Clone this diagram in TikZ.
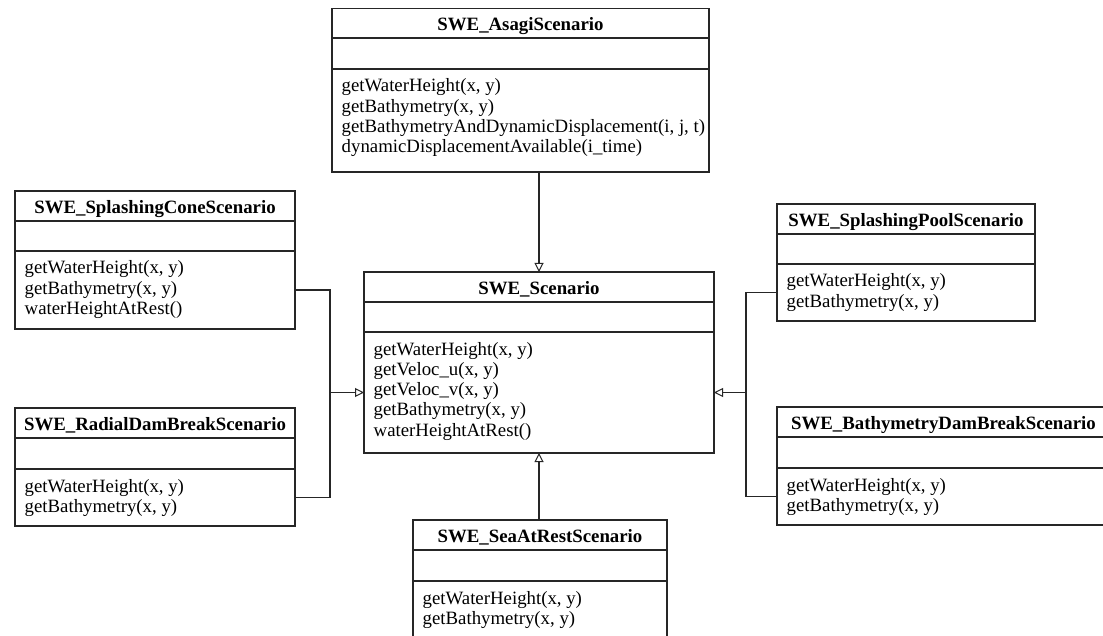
\documentclass[tikz,border=0pt]{standalone}
\usepackage{fontspec}
\setmainfont{Liberation Serif}
\usetikzlibrary{arrows.meta}
\colorlet{linecol}{black!85}
\tikzset{
  classbox/.style={rectangle, draw=linecol, line width=1.1pt, fill=white,
    inner sep=0pt, outer sep=0pt, anchor=north west},
  sepline/.style={draw=linecol, line width=1.1pt},
  classname/.style={font=\fontsize{18.8}{20}\selectfont\bfseries,
    inner sep=0pt, anchor=base},
  opline/.style={font=\fontsize{18.8}{20}\selectfont,
    inner sep=0pt, anchor=base west},
  link/.style={draw=linecol, line width=1.1pt},
  inherit/.style={draw=linecol, line width=1.1pt,
    -{Triangle[open, length=9pt, width=9pt, line width=1pt]}},
  sharedstem/.style={inherit, line width=1.8pt},
}
% #1 name, #2 left, #3 right, #4 top, #5 name/attribute rule,
% #6 attribute/operation rule, #7 bottom, #8 class name, #9 operations
\newcommand\umlclass[9]{%
  \pgfmathsetmacro\boxw{#3-#2}%
  \pgfmathsetmacro\boxh{#7-#4}%
  \node[classbox, minimum width=\boxw pt, minimum height=\boxh pt] (#1) at (#2,#4) {};
  \draw[sepline] (#2,#5) -- (#3,#5);
  \draw[sepline] (#2,#6) -- (#3,#6);
  \node[classname] (#1-name) at ({(#2+#3)/2},{#4+22.5}) {#8};
  \foreach \op [count=\k] in {#9}
    \node[opline] (#1-op\k) at ({#2+9.5},{#6+23+(\k-1)*20.3}) {\op};
  \coordinate (#1-w) at (#2,{(#6+#7)/2});
  \coordinate (#1-e) at (#3,{(#6+#7)/2});
}
\begin{document}
\begin{tikzpicture}[x=1pt, y=-1pt]
  \useasboundingbox (0,0) rectangle (1103,636);
  \fill[white] (0,0) rectangle (1103,636);
  \clip (0,0) rectangle (1103,636);

  \umlclass{asagi}{332}{709}{8.5}{38}{69}{172}{SWE\_AsagiScenario}
    {{getWaterHeight(x, y)},{getBathymetry(x, y)},
     {getBathymetryAndDynamicDisplacement(i, j, t)},
     {dynamicDisplacementAvailable(i\_time)}}

  \umlclass{scenario}{364}{714}{272}{302}{332}{453}{SWE\_Scenario}
    {{getWaterHeight(x, y)},{getVeloc\_u(x, y)},{getVeloc\_v(x, y)},
     {getBathymetry(x, y)},{waterHeightAtRest()}}

  \umlclass{cone}{15}{295}{191}{221}{251}{329}{SWE\_SplashingConeScenario}
    {{getWaterHeight(x, y)},{getBathymetry(x, y)},{waterHeightAtRest()}}

  \umlclass{radial}{15}{295}{408}{438}{469}{526}{SWE\_RadialDamBreakScenario}
    {{getWaterHeight(x, y)},{getBathymetry(x, y)}}

  \umlclass{pool}{777}{1035}{204}{234}{264}{321}{SWE\_SplashingPoolScenario}
    {{getWaterHeight(x, y)},{getBathymetry(x, y)}}

  \umlclass{bathy}{777}{1110}{407}{437}{468}{525}{SWE\_BathymetryDamBreakScenario}
    {{getWaterHeight(x, y)},{getBathymetry(x, y)}}

  \umlclass{sea}{413}{667}{520}{550}{581}{638}{SWE\_SeaAtRestScenario}
    {{getWaterHeight(x, y)},{getBathymetry(x, y)}}

  % generalisation arrows
  \draw[inherit] (asagi.south -| scenario.north) -- (scenario.north);
  \draw[inherit] (sea.north -| scenario.south) -- (scenario.south);

  \coordinate (ljoin) at (330,392.5);
  \draw[link] (cone-e) -| (ljoin) |- (radial-e);
  \draw[sharedstem] (ljoin) -- (scenario-w);

  \coordinate (rjoin) at (746,392.5);
  \draw[link] (pool-w) -| (rjoin) |- (bathy-w);
  \draw[sharedstem] (rjoin) -- (scenario-e);
\end{tikzpicture}
\end{document}
